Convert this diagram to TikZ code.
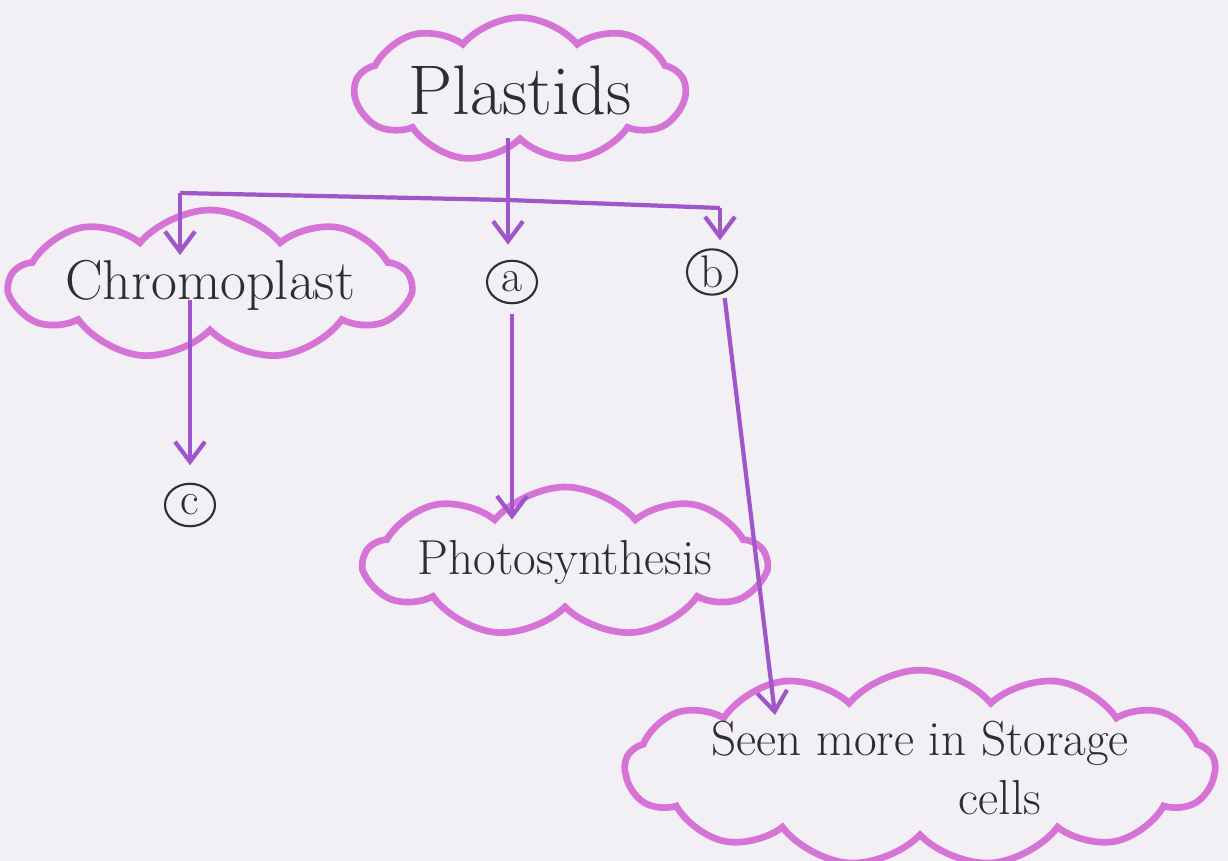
\documentclass[tikz,border=0pt]{standalone}
\usetikzlibrary{shapes.symbols,shapes.geometric,arrows.meta,calc}

\definecolor{paper}{RGB}{242,240,244}
\definecolor{pinkpen}{RGB}{214,115,214}
\definecolor{purplepen}{RGB}{160,85,200}
\definecolor{ink}{RGB}{45,45,52}

\begin{document}
\begin{tikzpicture}[x=0.02cm, y=-0.02cm,
    bubble/.style={cloud, cloud ignores aspect, cloud puffs=9, cloud puff arc=100,
        draw=pinkpen, line width=3.8pt, text=ink, inner sep=0pt},
    letter/.style={ellipse, draw=ink, line width=1.2pt, text=ink,
        minimum width=1.0cm, minimum height=0.85cm, inner sep=0pt,
        font=\fontsize{26}{28}\selectfont},
    stem/.style={draw=purplepen, line width=2.4pt},
    arr/.style={stem, -{Straight Barb[length=4mm, width=6mm]}}]

    % paper
    \fill[paper] (0,0) rectangle (1228,861);
    \useasboundingbox (0,0) rectangle (1228,861);

    % clouds
    \node[bubble, minimum width=6.6cm, minimum height=2.9cm,
        font=\fontsize{40}{44}\selectfont] (plastids) at (520,90) {Plastids};
    \node[bubble, minimum width=8.0cm, minimum height=3.0cm,
        font=\fontsize{32}{36}\selectfont] (chromo) at (210,285) {Chromoplast};
    \node[bubble, minimum width=7.4cm, minimum height=3.0cm,
        font=\fontsize{28}{32}\selectfont] (photo) at (565,562) {Photosynthesis};
    \node[bubble, cloud puffs=13, minimum width=11.8cm, minimum height=3.4cm,
        align=center, font=\fontsize{28}{34}\selectfont] (storage) at (920,768)
        {Seen more in Storage\\ \hspace*{3.2cm}cells};

    % circled letters
    \node[letter] (a) at (512,282) {a};
    \node[letter] (b) at (712,272) {b};
    \node[letter] (c) at (190,505) {c};

    % branching from Plastids
    \coordinate (jl) at (180,193);
    \coordinate (jm) at (508,200);
    \coordinate (jr) at (720,208);
    \draw[stem, shorten <=0.96cm] (plastids.center -| jm) -- (jm);
    \draw[stem] (jl) -- (jm) -- (jr);
    \draw[arr, shorten >=0.6cm] (jl) -- (jl |- chromo.center);
    \draw[arr, shorten >=0.3cm] (jm) -- (jm |- a.north);
    \draw[arr, shorten >=0.16cm] (jr) -- (jr |- b.north);

    % lower arrows
    \draw[arr, shorten <=0.3cm, shorten >=0.35cm] (chromo.center -| c) -- (c.north);
    \draw[arr, shorten <=0.2cm, shorten >=0.85cm] (a.south) -- (a.south |- photo.center);
    \draw[arr, shorten <=0.1cm] (b.-60) -- ($(storage.center)+(-145,-53)$);
\end{tikzpicture}
\end{document}
